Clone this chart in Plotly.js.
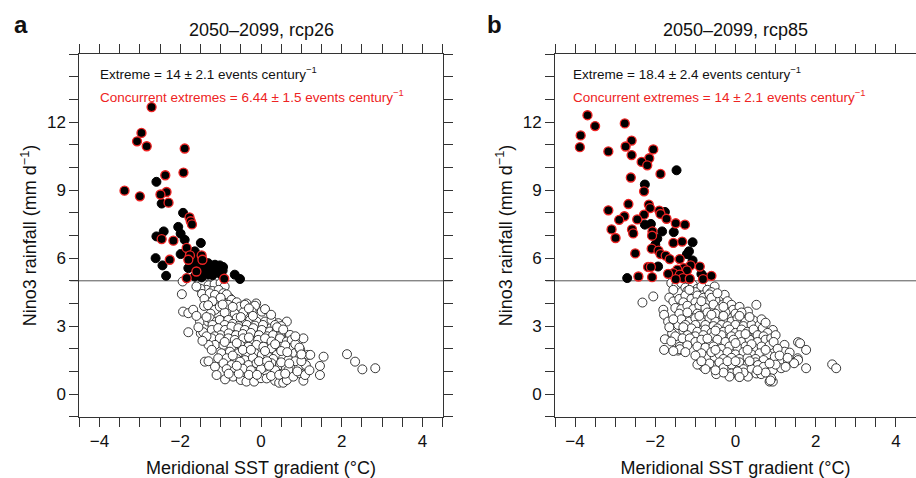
<!DOCTYPE html>
<html><head><meta charset="utf-8">
<script src="https://cdn.plot.ly/plotly-3.0.1.min.js"></script>
<style>html,body{margin:0;padding:0;background:#fff}#chart{width:916px;height:478px}</style>
</head><body><div id="chart"></div>
<script>
// ---------- ticks and labels ----------
const xTickVals = [-4,-2,0,2,4];
const xTickText = ['−4','−2','0','2','4'];
const xMinorVals = [-4.5,-3.5,-3,-2.5,-1.5,-1,-0.5,0.5,1,1.5,2.5,3,3.5,4.5];
const yTickVals = [0,3,6,9,12];
const yTickText = ['0','3','6','9','12'];
const yMinorVals = [-1,1,2,4,5,7,8,10,11,13,14,15];
const threshold = 5;
const panelLetters = ['a','b'];
const panelTitles = ['2050–2099, rcp26','2050–2099, rcp85'];
const extremeText = ['Extreme = 14 ± 2.1 events century<sup>−1</sup>','Extreme = 18.4 ± 2.4 events century<sup>−1</sup>'];
const concurrentText = ['Concurrent extremes = 6.44 ± 1.5 events century<sup>−1</sup>','Concurrent extremes = 14 ± 2.1 events century<sup>−1</sup>'];
const xTitle = 'Meridional SST gradient (°C)';
const yTitle = 'Nino3 rainfall (mm d<sup>−1</sup>)';

// ---------- panel a (rcp26): [SST gradient, rainfall] ----------
const aConcurrent = [[-2.71,12.67],[-2.96,11.53],[-3.07,11.16],[-2.83,10.94],[-1.89,10.84],[-1.92,9.78],[-2.37,9.66],
 [-3.38,8.98],[-2.34,8.92],[-2.49,8.81],[-3.00,8.73],[-2.29,8.45],[-1.77,7.80],[-1.74,7.63],[-1.71,7.49],[-2.46,6.84],
 [-2.17,6.77],[-1.84,6.45],[-1.76,6.12],[-1.47,6.12],[-2.26,5.93],[-1.80,5.93],[-1.45,5.93],[-1.60,5.41],[-1.84,5.12],[-0.91,5.09]];
const aExtreme = [[-2.59,9.37],[-2.46,8.41],[-1.93,8.00],[-2.05,7.38],[-2.41,7.18],[-1.99,7.08],[-2.59,6.96],[-1.89,6.81],
 [-1.49,6.67],[-1.99,6.18],[-1.64,6.30],[-2.61,6.00],[-1.60,5.90],[-1.31,5.78],[-2.44,5.68],[-1.14,5.71],[-1.02,5.68],
 [-0.94,5.61],[-1.47,5.63],[-1.80,5.56],[-1.39,5.44],[-1.22,5.49],[-1.06,5.41],[-1.56,5.27],[-1.31,5.27],[-2.35,5.22],
 [-0.65,5.27],[-0.52,5.08],[-1.47,5.15],[-1.64,5.19],[-1.64,5.63],[-1.25,5.60],[-1.10,5.55],[-1.35,5.35],[-1.20,5.25],
 [-1.00,5.30],[-0.95,5.45],[-1.69,6.24]];
const aOther = [
 [-1.94,4.97],[-1.55,4.85],[-1.45,4.9],[-1.3,4.8],[-1.15,4.85],[-1.0,4.9],[-0.9,4.75],[-1.35,4.6],[-1.2,4.55],[-1.05,4.6],[-1.5,4.65],[-1.6,4.75],
 [-1.96,4.41],[-1.46,4.42],[-1.27,4.45],[-1.14,4.38],[-0.93,4.45],[-0.77,4.23],[-0.85,4.4],[-1.06,4.09],[-0.73,4.16],[-1.4,4.2],[-0.6,4.05],[-0.36,4.0],[-0.12,4.0],[-1.2,4.1],[-1.0,4.25],
 [-1.93,3.64],[-1.80,3.57],[-1.68,3.72],[-1.41,3.89],[-1.31,3.92],[-1.14,3.72],[-1.02,3.86],[-0.81,3.94],[-0.60,3.72],[-0.52,3.86],[-0.40,3.94],[-0.15,3.9],[-0.23,3.64],[0.02,3.64],[-0.44,3.6],[-0.65,3.55],[-0.9,3.6],[-1.25,3.55],[0.1,3.75],[-0.3,3.78],
 [-1.51,3.20],[-1.31,3.20],[-1.27,3.35],[-1.10,3.20],[-1.02,3.27],[-0.81,3.27],[-0.60,3.35],[-0.44,3.13],[-0.27,3.27],[-0.11,3.2],[0.10,3.2],[0.26,3.27],[0.43,3.13],[0.64,3.20],[-0.9,3.05],[-0.7,3.1],[-0.55,3.0],[-0.35,3.05],[-0.15,3.02],[0.05,3.05],[0.35,3.05],[-1.2,3.05],[0.5,3.0],
 [-1.80,2.73],[-1.49,2.68],[-1.43,2.73],[-1.22,2.83],[-1.06,2.91],[-0.89,2.83],[-0.73,2.98],[-0.56,2.91],[-0.40,2.83],[-0.19,2.91],[0.02,2.83],[0.22,2.76],[0.39,2.83],[0.55,2.68],[0.72,2.61],[-1.0,2.6],[-0.8,2.68],[-0.62,2.6],[-0.45,2.65],[-0.25,2.7],[-0.05,2.6],[0.15,2.55],[0.3,2.6],[0.48,2.55],[-1.15,2.55],
 [-1.22,2.46],[-1.02,2.46],[-0.81,2.46],[-0.65,2.39],[-0.44,2.46],[-0.27,2.39],[-0.07,2.39],[0.10,2.46],[0.26,2.32],[0.47,2.46],[0.64,2.32],[0.76,2.39],[0.91,2.32],[1.05,2.46],[-1.14,2.17],[-0.93,2.17],[-0.73,2.09],[-0.52,2.17],[-0.31,2.09],[-0.11,2.17],[0.06,2.09],[0.26,2.02],[0.47,2.09],[0.72,2.02],[-1.30,2.17],[0.85,2.2],
 [-1.22,1.95],[-0.98,1.80],[-0.77,1.87],[-0.56,1.80],[-0.36,1.73],[-0.15,1.80],[0.02,1.73],[0.18,1.65],[0.39,1.73],[0.55,1.58],[0.72,1.65],[0.84,1.80],[0.97,1.95],[0.97,1.65],[1.16,1.73],[1.22,1.73],[1.55,1.65],[-1.06,1.58],[-0.85,1.58],[-0.60,1.55],[-0.40,1.5],[-0.2,1.6],[0.3,1.55],[0.68,1.50],[-0.7,1.7],
 [-1.39,1.43],[-1.30,1.45],[-1.14,1.21],[-0.93,1.36],[-0.73,1.28],[-0.52,1.43],[-0.31,1.28],[-0.11,1.36],[0.10,1.21],[0.26,1.36],[0.47,1.28],[0.62,1.15],[0.80,1.21],[0.93,1.14],[1.11,1.28],[1.46,1.24],[-0.85,1.10],[-0.65,1.05],[-0.45,1.12],[-0.25,1.05],[0.0,1.1],[0.35,1.05],[0.68,1.06],[2.13,1.76],[2.33,1.43],[2.51,1.09],[2.83,1.14],
 [-1.10,0.84],[-0.89,0.65],[-0.69,0.77],[-0.50,0.62],[-0.36,0.55],[-0.17,0.55],[0.00,0.70],[0.14,0.69],[0.35,0.59],[0.45,0.50],[0.55,0.50],[0.64,0.62],[0.80,0.77],[0.97,0.91],[1.05,0.59],[1.09,0.84],[1.46,0.84],[-0.55,0.9],[-0.3,0.85],[0.25,0.8],[-0.8,0.9],
 [-0.95,3.95],[-0.7,3.85],[-0.2,3.45],[0.25,3.5],[-1.35,3.4],[-0.5,3.4],[0.4,2.95],[0.55,2.85],[0.85,2.55],[-0.3,2.5],[-0.9,2.3],[-0.6,2.25],[0.35,2.2],[0.6,2.15],[0.95,2.05],[-0.45,1.95],[-0.25,1.95],[0.1,1.9],[0.5,1.9],[0.65,1.85],
 [-0.05,1.45],[0.15,1.45],[0.5,1.4],[0.85,1.45],[1.0,1.45],[-0.6,1.25],[0.2,1.25],[0.7,1.35],[0.9,1.0],[0.45,0.85],[-0.1,0.85],[0.6,0.9],[1.2,1.05],[1.0,1.75],[-1.6,3.45],[-1.55,2.95],[-1.35,2.55],[-1.45,2.35]];

// ---------- panel b (rcp85) ----------
const bConcurrent = [[-3.69,12.31],[-3.50,11.83],[-2.76,11.95],[-3.86,11.42],[-3.88,10.90],[-2.59,11.19],[-2.74,10.93],
 [-3.17,10.71],[-2.05,10.80],[-2.59,10.55],[-2.15,10.41],[-2.34,10.25],[-2.20,10.10],[-1.87,9.72],[-2.61,9.56],[-2.28,8.95],
 [-2.67,8.39],[-2.16,8.36],[-2.13,8.21],[-3.17,8.11],[-1.90,8.10],[-2.28,7.92],[-1.87,7.95],[-2.77,7.85],[-2.90,7.69],
 [-1.72,7.74],[-2.45,7.71],[-1.49,7.54],[-1.26,7.48],[-3.09,7.27],[-2.58,7.27],[-2.55,7.09],[-2.99,6.89],[-2.07,7.18],
 [-2.08,6.99],[-1.55,6.67],[-1.33,6.73],[-2.09,6.42],[-1.92,6.33],[-2.50,6.21],[-1.87,6.18],[-1.74,6.11],[-1.39,5.96],
 [-1.64,5.96],[-1.12,5.68],[-0.89,5.63],[-2.18,5.61],[-2.11,5.61],[-1.29,5.56],[-1.45,5.49],[-1.21,5.46],[-1.55,5.34],
 [-1.68,5.31],[-1.39,5.27],[-0.60,5.22],[-2.42,5.19],[-2.08,5.16],[-1.31,5.12],[-1.14,5.09],[-1.49,5.07],[-0.81,5.07]];
const bExtreme = [[-1.47,9.88],[-2.26,9.25],[-1.76,8.04],[-2.26,7.48],[-2.11,7.51],[-1.83,7.18],[-1.54,7.15],[-1.95,6.86],
 [-1.07,6.70],[-2.00,6.59],[-1.21,6.18],[-1.16,6.30],[-1.07,5.90],[-1.93,5.63],[-0.85,5.30],[-0.77,5.15],[-2.70,5.12]];
const bOther = [
 [-1.60,4.90],[-1.47,4.82],[-1.35,4.90],[-1.14,4.97],[-1.06,4.82],[-1.25,4.7],[-0.95,4.65],[-0.85,4.75],[-0.52,4.75],[-1.55,4.6],[-1.2,4.55],[-0.7,4.6],[-1.0,4.5],[-0.6,4.5],
 [-2.32,4.04],[-2.05,4.31],[-1.65,4.26],[-1.55,4.09],[-1.4,4.2],[-1.25,4.35],[-1.1,4.2],[-0.95,4.35],[-0.8,4.25],[-0.65,4.4],[-0.39,4.31],[-0.27,4.38],[-1.3,4.05],[-1.0,4.05],[-0.75,4.05],[-0.5,4.15],[-0.2,4.1],[-0.6,4.25],
 [-1.80,3.72],[-1.78,3.50],[-1.5,3.8],[-1.35,3.75],[-1.2,3.9],[-1.05,3.75],[-0.9,3.9],[-0.75,3.8],[-0.55,3.95],[-0.4,3.75],[-0.10,3.94],[-0.06,3.72],[0.1,3.85],[0.31,3.64],[0.52,3.94],[-1.4,3.55],[-1.2,3.6],[-0.95,3.55],[-0.7,3.6],[-0.5,3.55],[-0.25,3.6],[0.0,3.55],[0.15,3.6],[-0.3,3.85],
 [-1.68,3.20],[-1.43,3.05],[-1.35,3.3],[-1.15,3.2],[-1.0,3.35],[-0.85,3.2],[-0.65,3.35],[-0.5,3.2],[-0.3,3.3],[-0.1,3.2],[0.05,3.35],[0.25,3.2],[0.45,3.25],[-1.25,3.05],[-1.0,3.05],[-0.75,3.05],[-0.55,3.0],[-0.35,3.05],[-0.2,3.0],[0.0,3.05],[0.2,3.0],[0.4,3.05],[0.6,3.05],[-0.9,3.45],[0.1,3.45],
 [-1.58,2.68],[-1.3,2.8],[-1.1,2.9],[-0.95,2.75],[-0.75,2.85],[-0.6,2.7],[-0.45,2.9],[-0.3,2.75],[-0.15,2.85],[0.0,2.7],[0.15,2.85],[0.3,2.75],[0.45,2.85],[0.68,2.91],[0.93,2.83],[0.8,2.7],[-1.0,2.55],[-0.8,2.6],[-0.55,2.55],[-0.35,2.6],[-0.1,2.55],[0.1,2.6],[0.3,2.55],[0.55,2.6],[0.7,2.55],[-1.2,2.6],[-1.5,2.55],
 [-1.76,2.42],[-1.60,2.32],[-1.32,2.46],[-1.14,2.46],[-1.39,2.09],[-1.0,2.3],[-0.85,2.4],[-0.65,2.25],[-0.45,2.4],[-0.25,2.3],[-0.05,2.4],[0.15,2.3],[0.35,2.4],[0.55,2.3],[0.75,2.4],[0.89,2.46],[-0.95,2.1],[-0.75,2.05],[-0.55,2.1],[-0.35,2.0],[-0.15,2.1],[0.05,2.05],[0.25,2.1],[0.45,2.05],[0.65,2.1],[0.85,2.15],[1.22,2.17],[1.56,2.29],[1.61,2.24],[-1.2,2.15],
 [-1.78,1.95],[-1.43,1.92],[-1.39,1.98],[-0.89,1.58],[-0.68,1.65],[-0.52,1.65],[-0.85,1.8],[-0.6,1.85],[-0.4,1.75],[-0.2,1.85],[0.0,1.75],[0.2,1.85],[0.4,1.75],[0.6,1.8],[0.8,1.75],[0.98,1.65],[1.22,1.87],[1.35,1.83],[1.76,1.95],[1.55,1.58],[-0.3,1.55],[-0.1,1.6],[0.1,1.55],[0.3,1.6],[0.5,1.55],[0.7,1.5],[-1.0,1.7],
 [-0.81,1.21],[-0.52,1.21],[-0.23,1.06],[-0.95,1.3],[-0.65,1.35],[-0.4,1.4],[-0.1,1.3],[0.1,1.4],[0.3,1.3],[0.5,1.4],[0.56,1.28],[0.7,1.2],[0.93,1.06],[1.14,1.14],[1.31,1.43],[1.47,1.39],[1.56,1.50],[1.46,1.36],[1.76,1.14],[2.41,1.31],[2.51,1.14],[-0.3,1.15],[0.2,1.1],[0.4,1.1],[1.0,1.3],[-0.75,1.1],
 [-0.48,0.88],[-0.10,0.91],[-0.15,0.77],[0.10,0.77],[0.31,0.77],[0.52,0.91],[0.64,0.88],[0.85,0.55],[0.93,0.55],[0.89,0.69],[0.87,0.60],[-0.3,0.95],[0.2,0.95],[0.75,0.95],
 [-0.85,4.1],[-0.45,4.45],[-1.15,4.6],[-0.3,3.45],[0.35,3.4],[0.65,3.3],[0.75,3.15],[-0.6,3.5],[-1.55,3.3],[-1.65,2.95],[-1.3,2.95],[-0.5,2.8],[0.25,2.65],[1.0,2.6],[0.95,2.3],[-0.7,2.45],[0.0,2.25],[0.4,2.2],[1.05,2.0],[-0.5,1.95],
 [0.3,1.95],[0.75,1.95],[1.1,1.7],[-0.2,1.45],[0.0,1.45],[0.35,1.45],[0.85,1.35],[-0.85,1.45],[-0.5,1.05],[0.05,1.0],[0.55,1.05],[1.25,1.2],[1.3,1.6],[-1.25,1.85],[-1.55,1.9],[0.1,0.75]];

// ---------- build ----------
const FONT = 'Liberation Sans, Arial, Helvetica, sans-serif';
const RED = 'rgb(238,35,35)';
function col(arr, i){ return arr.map(p => p[i]); }
function tr(data, xa, ya, kind){
  const m = {size: 9, symbol: 'circle'};
  if (kind === 'open') { m.color = '#ffffff'; m.line = {color: '#222', width: 0.9}; }
  else if (kind === 'ext') { m.color = '#000'; m.line = {color: '#000', width: 1}; }
  else { m.color = '#000'; m.line = {color: RED, width: 1.3}; }
  return {type: 'scatter', mode: 'markers', x: col(data,0), y: col(data,1), xaxis: xa, yaxis: ya,
          marker: m, hoverinfo: 'skip', showlegend: false, cliponaxis: false};
}
const traces = [
  tr(aOther,'x','y','open'), tr(aExtreme,'x','y','ext'), tr(aConcurrent,'x','y','conc'),
  tr(bOther,'x2','y2','open'), tr(bExtreme,'x2','y2','ext'), tr(bConcurrent,'x2','y2','conc')
];

const xDom = [[79.3/916, 442.7/916],[555/916, 1.0]];
const yDom = [61.3/478, 423.7/478];
function xax(i){
  return {domain: xDom[i], range: [-4.5, 4.5], anchor: i ? 'y2' : 'y',
    tickmode: 'array', tickvals: xTickVals, ticktext: xTickText,
    ticks: 'outside', ticklen: 9, tickwidth: 1, tickcolor: '#333',
    minor: {tickmode: 'array', tickvals: xMinorVals, ticks: 'outside', ticklen: 9, tickwidth: 1, tickcolor: '#333', showgrid: false},
    showline: true, linecolor: '#333', linewidth: 1, mirror: 'ticks',
    showgrid: false, zeroline: false, tickfont: {size: 17, color: '#111', family: FONT},
    title: {text: xTitle, font: {size: 18, color: '#111', family: FONT}, standoff: 12}};
}
function yax(i){
  return {domain: yDom, range: [-1, 15], anchor: i ? 'x2' : 'x',
    tickmode: 'array', tickvals: yTickVals, ticktext: yTickText,
    ticks: 'outside', ticklen: 9, tickwidth: 1, tickcolor: '#333',
    minor: {tickmode: 'array', tickvals: yMinorVals, ticks: 'outside', ticklen: 9, tickwidth: 1, tickcolor: '#333', showgrid: false},
    showline: true, linecolor: '#333', linewidth: 1, mirror: 'ticks',
    showgrid: false, zeroline: false, tickfont: {size: 17, color: '#111', family: FONT},
    title: {text: yTitle, font: {size: 18, color: '#111', family: FONT}, standoff: 5}};
}
const annotations = [];
const shapes = [];
[0,1].forEach(i => {
  const xa = i ? 'x2' : 'x';
  const xc = (xDom[i][0] + xDom[i][1]) / 2;
  annotations.push({xref:'paper', yref:'paper', x: xc, y: 1 - 30/478, xanchor:'center', yanchor:'middle',
    text: panelTitles[i], showarrow:false, font:{size:18, color:'#111', family:FONT}});
  annotations.push({xref:'paper', yref:'paper', x: (i ? 485 : 12)/916, y: 1 - 24/478, xanchor:'left', yanchor:'middle',
    text: '<b>' + panelLetters[i] + '</b>', showarrow:false, font:{size:24, color:'#111', family:FONT}});
  annotations.push({xref:'paper', yref:'paper', x: (i ? 571 : 98)/916, y: 1 - 73/478, xanchor:'left', yanchor:'middle',
    text: extremeText[i], showarrow:false, font:{size:13.5, color:'#111', family:FONT}});
  annotations.push({xref:'paper', yref:'paper', x: (i ? 571 : 98)/916, y: 1 - 96/478, xanchor:'left', yanchor:'middle',
    text: concurrentText[i], showarrow:false, font:{size:13.5, color:RED, family:FONT}});
  shapes.push({type:'line', xref: xa + ' domain', yref: i ? 'y2' : 'y', x0: -0.025, x1: 1.025, y0: threshold, y1: threshold,
    line:{color:'#555', width:1}, layer:'below'});
});

const layout = {width: 916, height: 478, margin: {l:0, r:0, t:0, b:0},
  paper_bgcolor: '#fff', plot_bgcolor: '#fff', font: {family: FONT, color: '#111'},
  xaxis: xax(0), yaxis: yax(0), xaxis2: xax(1), yaxis2: yax(1),
  annotations: annotations, shapes: shapes, showlegend: false};
Plotly.newPlot('chart', traces, layout, {staticPlot: true, displayModeBar: false});
</script></body></html>
